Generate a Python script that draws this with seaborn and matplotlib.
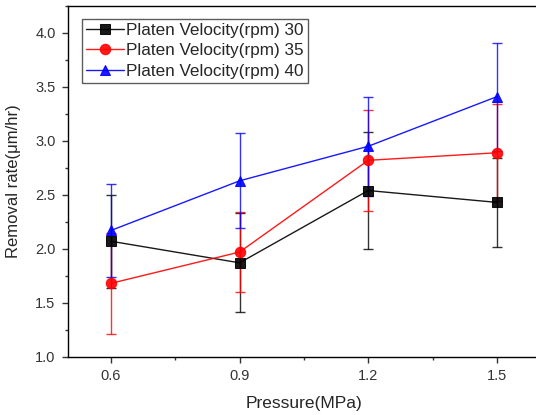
import matplotlib
matplotlib.use("Agg")
import matplotlib.pyplot as plt
from matplotlib.ticker import MultipleLocator
import pandas as pd
import seaborn as sns

pressure = [0.6, 0.9, 1.2, 1.5]
rate_30 = [2.07, 1.87, 2.54, 2.43]
err_30 = [0.43, 0.46, 0.54, 0.41]
rate_35 = [1.68, 1.97, 2.82, 2.89]
err_35 = [0.47, 0.37, 0.47, 0.45]
rate_40 = [2.17, 2.63, 2.95, 3.41]
err_40 = [0.43, 0.44, 0.46, 0.50]
labels = ["Platen Velocity(rpm) 30", "Platen Velocity(rpm) 35", "Platen Velocity(rpm) 40"]

sns.set_style("white")
plt.rcParams['font.family'] = ['Liberation Sans', 'DejaVu Sans']

fig = plt.figure(figsize=(5.36, 4.15), dpi=100)
ax = fig.add_axes([0.127, 0.1405, 0.88, 0.845])

series = [(rate_30, err_30, "black", "s"),
          (rate_35, err_35, "red", "o"),
          (rate_40, err_40, "blue", "^")]

handles = []
for (vals, errs, col, mk), lab in zip(series, labels):
    df = pd.DataFrame({"Pressure": pressure, "Rate": vals})
    ax.errorbar(pressure, vals, yerr=errs, fmt="none", ecolor=col,
                elinewidth=1, capsize=3.5, capthick=1, alpha=0.8, zorder=2)
    sns.lineplot(data=df, x="Pressure", y="Rate", ax=ax, color=col,
                 marker=mk, markersize=7.5, markeredgecolor=col,
                 linewidth=1, alpha=0.9, zorder=3)
    handles.append(ax.lines[-1])

ax.set_xlim(0.5, 1.6)
ax.set_ylim(1.0, 4.25)
ax.set_xticks(pressure)
ax.xaxis.set_minor_locator(MultipleLocator(0.15))
ax.yaxis.set_major_locator(MultipleLocator(0.5))
ax.yaxis.set_minor_locator(MultipleLocator(0.25))
ax.tick_params(which="major", direction="out", length=4, width=1,
               labelsize=10.5, labelcolor="#333333", colors="#333333",
               left=True, bottom=True, pad=5)
ax.tick_params(which="minor", direction="out", length=2.5, width=1,
               colors="#333333", left=True, bottom=True)
for s in ax.spines.values():
    s.set_color("black")
    s.set_linewidth(1)

ax.set_xlabel("Pressure(MPa)", fontsize=12.5, labelpad=9)
ax.set_ylabel("Removal rate(μm/hr)", fontsize=12, labelpad=10)

leg = ax.legend(handles, labels, loc="upper left", bbox_to_anchor=(0.03, 0.963),
                fontsize=12.3, frameon=True, fancybox=False, handlelength=2.2,
                handletextpad=0.1, borderpad=0.25, labelspacing=0.3,
                borderaxespad=0)
leg.get_frame().set_edgecolor("#333333")
leg.get_frame().set_linewidth(1)

fig.savefig("out.png", dpi=100)
